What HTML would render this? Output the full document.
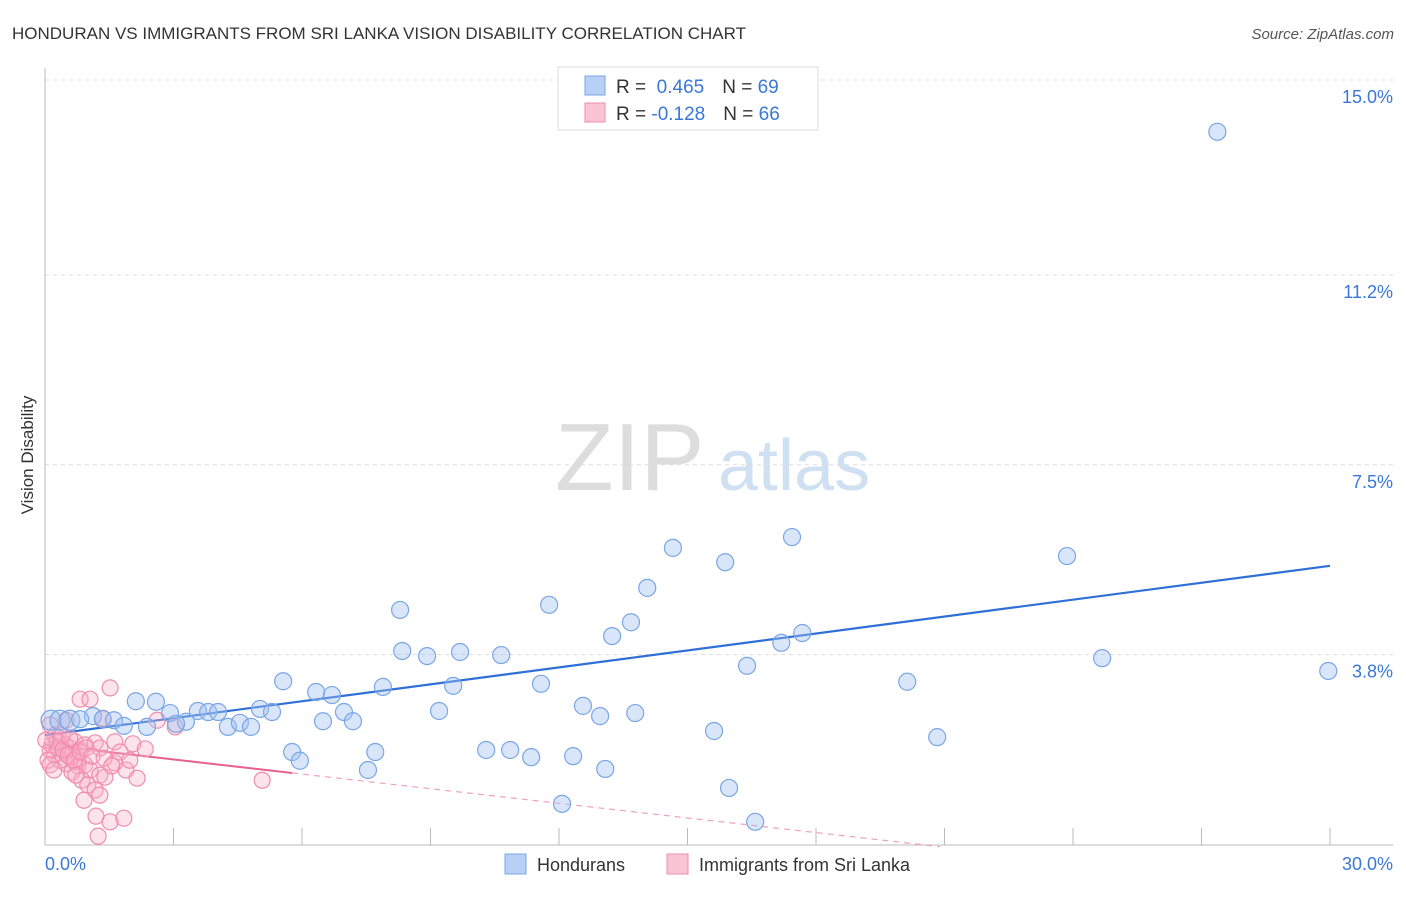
<!DOCTYPE html>
<html><head><meta charset="utf-8">
<style>
body{margin:0;background:#fff;font-family:"Liberation Sans",sans-serif;}
svg text{font-family:"Liberation Sans",sans-serif;}
</style></head>
<body>
<svg id="chart" width="1406" height="892">
<text x="12" y="39" font-size="17" fill="#333">HONDURAN VS IMMIGRANTS FROM SRI LANKA VISION DISABILITY CORRELATION CHART</text>
<text x="1394" y="39" font-size="15" fill="#555" text-anchor="end" font-style="italic">Source: ZipAtlas.com</text>
<text transform="translate(33,455) rotate(-90)" font-size="17" fill="#333" text-anchor="middle">Vision Disability</text>
<g>
<text x="555" y="490" font-size="96" fill="#ddd" font-family="Liberation Serif">ZIP</text>
<text x="718" y="490" font-size="72" fill="#cfe0f3">atlas</text>
</g>
<g id="grid"></g><g id="axes"></g><g id="lines"></g><g id="points"></g>
<g>
<rect x="558" y="67" width="260" height="63" fill="#fff" stroke="#ddd"/>
<rect x="585" y="76" width="20" height="19" fill="#b8d0f5" stroke="#7aa6e6"/>
<rect x="585" y="103" width="20" height="19" fill="#f9c4d4" stroke="#f08cb0"/>
<text x="616" y="93" font-size="19" fill="#333">R = <tspan fill="#3a78d8">&#160;0.465</tspan><tspan dx="18">N = </tspan><tspan fill="#3a78d8">69</tspan></text>
<text x="616" y="120" font-size="19" fill="#333">R = <tspan fill="#3a78d8">-0.128</tspan><tspan dx="18">N = </tspan><tspan fill="#3a78d8">66</tspan></text>
</g>
<g>
<rect x="505" y="854" width="21" height="20" fill="#b8d0f5" stroke="#7aa6e6"/>
<text x="537" y="871" font-size="18" fill="#333">Hondurans</text>
<rect x="667" y="854" width="21" height="20" fill="#f9c4d4" stroke="#f08cb0"/>
<text x="699" y="871" font-size="18" fill="#333">Immigrants from Sri Lanka</text>
</g>
</svg>
<script>
const yTicks=[15.0,11.2,7.5,3.8];
const yTickLabels=["15.0%","11.2%","7.5%","3.8%"];
const xTicks=[0,3,6,9,12,15,18,21,24,27,30];
const blueX=[27.37,17.44,14.66,23.86,15.88,14.06,11.77,8.29,13.68,13.24,17.68,17.19,8.34,8.92,9.69,10.65,24.68,16.39,29.96,5.56,7.89,9.53,11.58,20.13,6.33,6.70,2.12,2.59,12.56,12.96,13.78,9.20,5.02,5.30,6.98,3.57,3.81,4.04,2.92,1.12,1.35,0.14,0.35,0.58,0.82,1.61,3.29,4.27,4.55,4.81,3.06,2.38,1.84,6.49,7.19,15.62,20.83,10.30,10.86,11.35,12.33,5.77,7.71,5.95,7.54,13.08,15.97,12.07,16.58];
const blueY=[13.99,6.09,5.88,5.72,5.60,5.10,4.77,4.67,4.43,4.16,4.22,4.03,3.87,3.77,3.85,3.79,3.73,3.58,3.48,3.28,3.17,3.19,3.23,3.27,3.07,3.01,2.89,2.88,2.80,2.60,2.66,2.70,2.74,2.68,2.68,2.70,2.68,2.68,2.66,2.60,2.54,2.52,2.52,2.52,2.54,2.52,2.49,2.39,2.47,2.39,2.45,2.39,2.41,2.50,2.50,2.31,2.19,1.94,1.94,1.80,1.82,1.90,1.90,1.73,1.55,1.57,1.20,0.89,0.54];
const pinkX=[1.52,0.82,1.05,2.62,3.04,1.35,0.12,0.23,0.35,0.47,0.58,0.70,0.82,0.93,1.17,1.28,1.63,2.05,2.34,0.12,0.23,0.35,0.47,0.58,0.70,0.77,0.93,1.05,1.28,1.40,1.63,1.89,2.15,0.07,0.16,0.30,0.40,0.49,0.63,0.86,1.00,1.17,1.28,0.91,1.19,1.52,1.84,1.24,5.07,0.28,0.42,0.54,0.68,0.82,0.96,1.10,1.38,1.56,1.75,1.98,0.02,0.12,0.21,0.58,0.72,0.49];
const pinkY=[3.15,2.93,2.93,2.52,2.39,2.56,2.43,2.23,2.13,2.04,1.98,2.10,1.94,2.04,2.08,1.98,2.10,2.06,1.96,1.94,1.84,1.74,1.90,1.80,1.71,1.63,1.65,1.55,1.45,1.41,1.69,1.55,1.39,1.74,2.04,1.98,2.22,1.67,1.51,1.35,1.26,1.16,1.06,0.96,0.65,0.54,0.61,0.26,1.35,2.10,1.94,1.84,1.74,1.90,1.98,1.82,1.78,1.63,1.90,1.74,2.13,1.65,1.55,2.17,1.45,2.52];
const blueFit=[2.23,5.53];   // value at x=0 and x=30
const pinkFit=[2.04,-0.095]; // intercept, slope
const pinkSolidEnd=5.77;
const pinkDashEnd=20.9;

const NS="http://www.w3.org/2000/svg";
const X=v=>45+v/30*1285;
const Y=v=>80+(15-v)*51.3;
function mk(tag,attrs,parent){const e=document.createElementNS(NS,tag);for(const k in attrs)e.setAttribute(k,attrs[k]);document.getElementById(parent).appendChild(e);return e;}

yTicks.forEach((t,i)=>{
  const g=mk('line',{x1:45,x2:1393,y1:Y(t),y2:Y(t),stroke:'#ddd','stroke-dasharray':'4,4'},'grid');
  
  
  const l=mk('text',{x:1393,y:Y(t)+23,'font-size':18,fill:'#3a78d8','text-anchor':'end'},'grid');
  l.textContent=yTickLabels[i];
  
  
});
const ax=mk('line',{x1:45,x2:1393,y1:845,y2:845,stroke:'#bbb'},'axes');


const ay=mk('line',{x1:45,x2:45,y1:68,y2:845,stroke:'#bbb'},'axes');


xTicks.forEach(t=>{
  const tk=mk('line',{x1:X(t),x2:X(t),y1:828,y2:845,stroke:'#bbb'},'axes');
  
  
});
const xl0=mk('text',{x:45,y:870,'font-size':18,fill:'#3a78d8'},'axes');xl0.textContent="0.0%";


const xl1=mk('text',{x:1393,y:870,'font-size':18,fill:'#3a78d8','text-anchor':'end'},'axes');xl1.textContent="30.0%";



pinkX.forEach((x,i)=>{
  const c=mk('circle',{cx:X(x),cy:Y(pinkY[i]),r:8,fill:'rgba(248,175,198,0.35)',stroke:'#f08cb0','stroke-width':1.2},'points');
  
  
});
blueX.forEach((x,i)=>{
  const c=mk('circle',{cx:X(x),cy:Y(blueY[i]),r:(i>=41&&i<=43)?10:8.5,fill:'rgba(160,192,240,0.4)',stroke:'#7aa6e6','stroke-width':1.2},'points');
  
  
});
const bl=mk('line',{x1:X(0),y1:Y(blueFit[0]),x2:X(30),y2:Y(blueFit[1]),stroke:'#2f6fd8','stroke-width':2.2},'lines');


const pf=v=>pinkFit[0]+pinkFit[1]*v;
const pl=mk('line',{x1:X(0),y1:Y(pf(0)),x2:X(pinkSolidEnd),y2:Y(pf(pinkSolidEnd)),stroke:'#e8608f','stroke-width':2},'lines');


const pd=mk('line',{x1:X(pinkSolidEnd),y1:Y(pf(pinkSolidEnd)),x2:X(pinkDashEnd),y2:Y(pf(pinkDashEnd)),stroke:'#f0a0bc','stroke-width':1.2,'stroke-dasharray':'6,5'},'lines');


</script>
</body></html>
